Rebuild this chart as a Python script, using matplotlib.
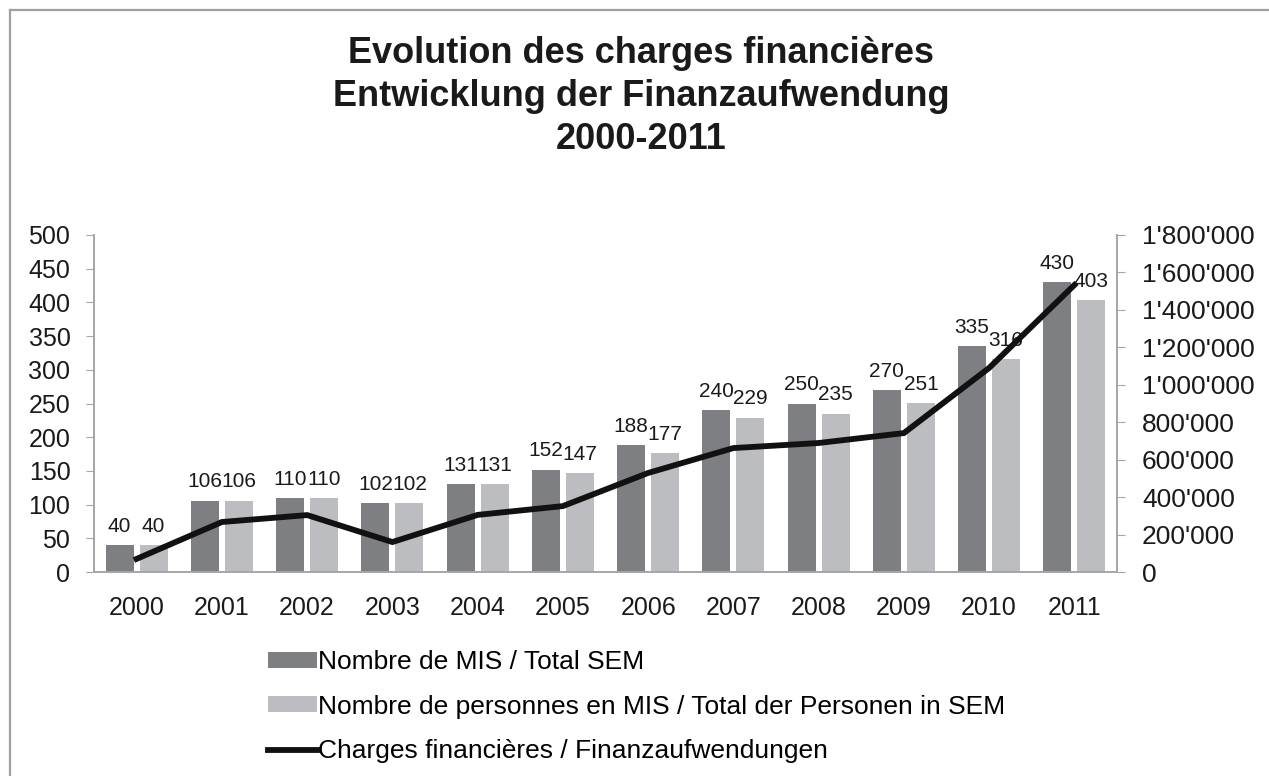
import numpy as np
import matplotlib.pyplot as plt
from matplotlib.lines import Line2D
from matplotlib.patches import Patch
from matplotlib.ticker import FuncFormatter, MultipleLocator

plt.rcParams['font.family'] = ['Liberation Sans', 'DejaVu Sans']

# data
years = ['2000', '2001', '2002', '2003', '2004', '2005',
         '2006', '2007', '2008', '2009', '2010', '2011']
mis_total = [40, 106, 110, 102, 131, 152, 188, 240, 250, 270, 335, 430]
persons_total = [40, 106, 110, 102, 131, 147, 177, 229, 235, 251, 316, 403]
charges = [70000, 267000, 304000, 160000, 305000, 352000,
           529000, 662000, 689000, 742000, 1090000, 1533000]

title = ('Evolution des charges financières\n'
         'Entwicklung der Finanzaufwendung\n'
         '2000-2011')
lab_mis = 'Nombre de MIS / Total SEM'
lab_pers = 'Nombre de personnes en MIS / Total der Personen in SEM'
lab_charges = 'Charges financières / Finanzaufwendungen'

dark = '#7e7f83'
light = '#bcbdc1'
axis_grey = '#a6a6a6'
txt = '#1a1a1a'

fig = plt.figure(figsize=(12.69, 7.76), dpi=100)
ax = fig.add_axes([94 / 1269, 1 - 572 / 776, (1117 - 94) / 1269, (572 - 235) / 776])
ax2 = ax.twinx()

x = np.arange(len(years))
w = 0.33
b1 = ax.bar(x - 0.2, mis_total, w, color=dark)
b2 = ax.bar(x + 0.2, persons_total, w, color=light)
for bars, vals in ((b1, mis_total), (b2, persons_total)):
    for rect, v in zip(bars, vals):
        ax.annotate(str(v), (rect.get_x() + rect.get_width() / 2, v),
                    xytext=(0, 9.5), textcoords='offset points',
                    ha='center', va='baseline', fontsize=15, color=txt)

ax2.plot(x, charges, color='#111111', lw=4.2, solid_joinstyle='miter')

ax.set_xlim(-0.5, len(years) - 0.5)
ax.set_ylim(0, 500)
ax.yaxis.set_major_locator(MultipleLocator(50))
ax2.set_ylim(0, 1800000)
ax2.yaxis.set_major_locator(MultipleLocator(200000))
ax2.yaxis.set_major_formatter(FuncFormatter(lambda v, p: f"{int(v):,}".replace(',', "'")))

ax.set_xticks(x)
ax.set_xticklabels(years)
ax.tick_params(axis='x', length=0, pad=17, labelsize=18, labelcolor=txt)
ax.tick_params(axis='y', length=6, color=axis_grey, labelsize=18, labelcolor=txt, pad=11)
ax2.tick_params(axis='y', length=6, color=axis_grey, labelsize=19, labelcolor=txt, pad=12)

for a in (ax, ax2):
    a.spines['top'].set_visible(False)
    for s in ('left', 'right', 'bottom'):
        a.spines[s].set_color(axis_grey)
        a.spines[s].set_linewidth(1.2)

fig.text(0.505, 1 - 36 / 776, title, ha='center', va='top', fontsize=26,
         fontweight='bold', color=txt, linespacing=1.3)

handles = [Patch(facecolor=dark), Patch(facecolor=light),
           Line2D([0], [0], color='#111111', lw=4.2)]
fig.legend(handles, [lab_mis, lab_pers, lab_charges],
           loc='upper left', bbox_to_anchor=(268 / 1269, 1 - 650 / 776),
           frameon=False, fontsize=19, handlelength=1.85, handleheight=0.55,
           handletextpad=0.05, labelspacing=0.78, borderaxespad=0, borderpad=0)

# outer chart frame (left and top edges visible)
fig.add_artist(Line2D([10 / 1269, 10 / 1269], [0, 1 - 10 / 776],
                      transform=fig.transFigure, color='#a0a0a0', lw=1.6))
fig.add_artist(Line2D([10 / 1269, 1], [1 - 10 / 776, 1 - 10 / 776],
                      transform=fig.transFigure, color='#a0a0a0', lw=1.6))

fig.savefig('out.png', dpi=100, facecolor='white')
